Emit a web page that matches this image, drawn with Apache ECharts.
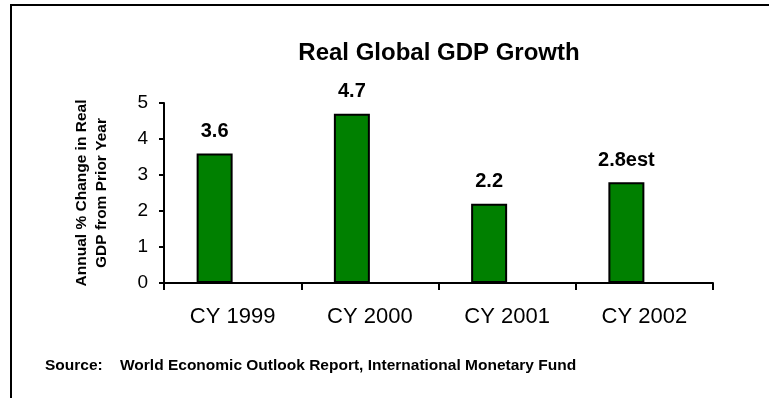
<!DOCTYPE html>
<html>
<head>
<meta charset="utf-8">
<title>Real Global GDP Growth</title>
<script src="https://cdn.jsdelivr.net/npm/echarts@6/dist/echarts.min.js"></script>
<style>
  html, body { margin: 0; padding: 0; background: #ffffff; }
  #chart { width: 769px; height: 398px; }
</style>
</head>
<body>
<div id="chart"></div>
<script>
// Calendar years on the category axis
const categories = ['CY 1999', 'CY 2000', 'CY 2001', 'CY 2002'];
// Annual % change in real global GDP
const growth = [3.6, 4.7, 2.2, 2.8];
// Text appended to each value label (2002 is an estimate)
const labelSuffix = ['', '', '', 'est'];
// Value axis range and step
const yMin = 0;
const yMax = 5;
const yStep = 1;

const FONT = '"Liberation Sans", Arial, Helvetica, sans-serif';

const chart = echarts.init(document.getElementById('chart'), null, { renderer: 'canvas' });

chart.setOption({
  animation: false,
  backgroundColor: '#ffffff',
  grid: { left: 164, top: 103, width: 549, height: 180, containLabel: false },
  xAxis: {
    type: 'category',
    data: categories,
    boundaryGap: true,
    axisLine: { show: true, lineStyle: { color: '#000', width: 2 } },
    axisTick: { show: true, length: 7, inside: false, lineStyle: { color: '#000', width: 2 } },
    axisLabel: { color: '#000', fontFamily: FONT, fontSize: 22, margin: 23 },
    splitLine: { show: false }
  },
  yAxis: {
    type: 'value',
    min: yMin,
    max: yMax,
    interval: yStep,
    name: 'Annual % Change in Real\nGDP from Prior Year',
    nameLocation: 'middle',
    nameRotate: 90,
    nameGap: 52,
    nameTextStyle: { color: '#000', fontFamily: FONT, fontSize: 15.5, fontWeight: 'bold', lineHeight: 20, align: 'center' },
    axisLine: { show: true, lineStyle: { color: '#000', width: 2 } },
    axisTick: { show: true, length: 5, inside: false, lineStyle: { color: '#000', width: 2 } },
    axisLabel: { color: '#000', fontFamily: FONT, fontSize: 19, margin: 16 },
    splitLine: { show: false }
  },
  series: [
    {
      type: 'bar',
      data: growth,
      barWidth: 36,
      barGap: '0%',
      itemStyle: { color: '#008000', borderColor: '#000', borderWidth: 2 },
      label: {
        show: true,
        position: 'top',
        distance: 12,
        color: '#000',
        fontFamily: FONT,
        fontSize: 20,
        fontWeight: 'bold',
        formatter: p => p.value + labelSuffix[p.dataIndex]
      }
    },
    {
      // empty companion series keeps each bar left of its category centre
      type: 'bar',
      data: categories.map(() => '-'),
      barWidth: 36,
      barGap: '0%',
      silent: true
    }
  ],
  graphic: [
    {
      type: 'polyline',
      shape: { points: [[11, 400], [11, 5], [771, 5]] },
      style: { stroke: '#000', lineWidth: 2, fill: null }
    },
    {
      type: 'text',
      x: 439,
      y: 53,
      style: {
        text: 'Real Global GDP Growth',
        fill: '#000',
        font: 'bold 24px ' + FONT,
        align: 'center',
        verticalAlign: 'middle'
      }
    },
    {
      type: 'text',
      x: 45,
      y: 365.5,
      style: {
        text: 'Source:',
        fill: '#000',
        font: 'bold 15.5px ' + FONT,
        align: 'left',
        verticalAlign: 'middle'
      }
    },
    {
      type: 'text',
      x: 120,
      y: 365.5,
      style: {
        text: 'World Economic Outlook Report, International Monetary Fund',
        fill: '#000',
        font: 'bold 15.5px ' + FONT,
        align: 'left',
        verticalAlign: 'middle'
      }
    }
  ]
});
</script>
</body>
</html>
